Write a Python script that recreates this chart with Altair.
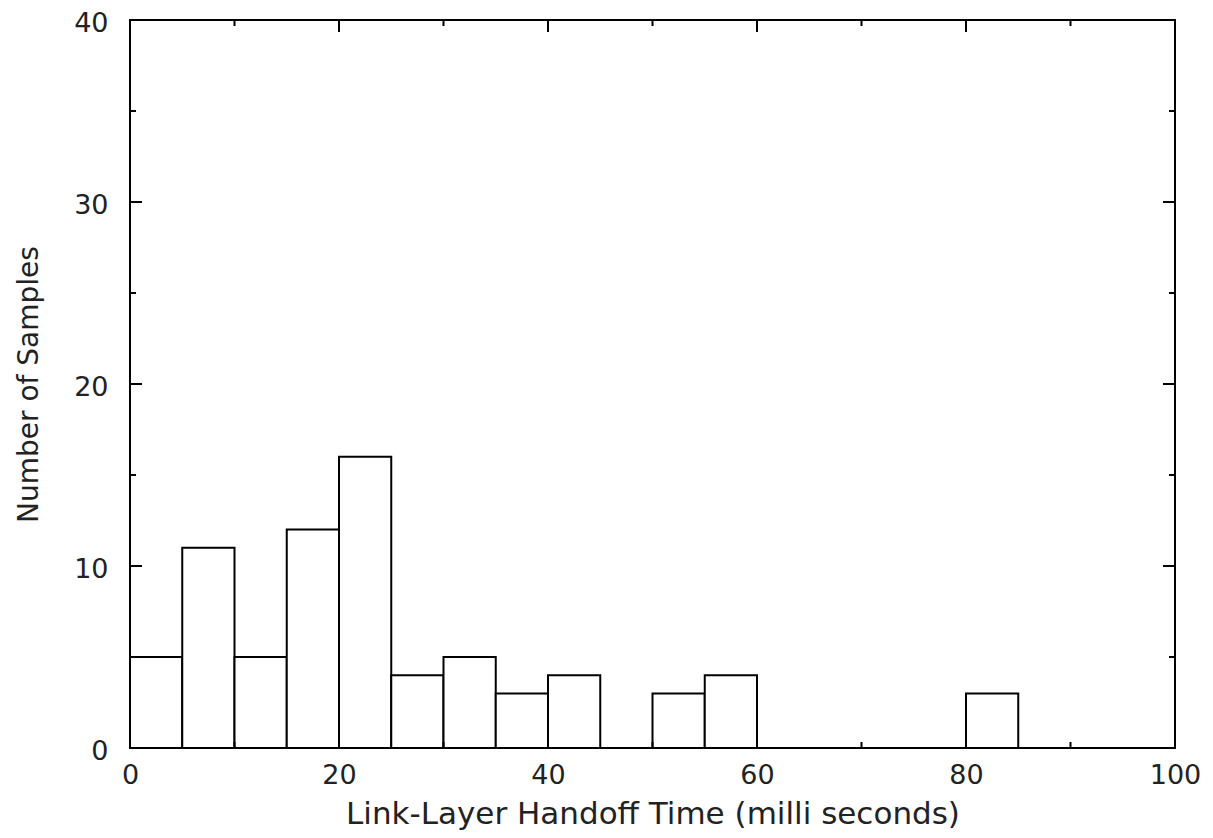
import altair as alt
import pandas as pd

# Histogram bins (milliseconds) and counts
bin_start = [0, 5, 10, 15, 20, 25, 30, 35, 40, 50, 55, 80]
bin_end = [5, 10, 15, 20, 25, 30, 35, 40, 45, 55, 60, 85]
counts = [5, 11, 5, 12, 16, 4, 5, 3, 4, 3, 4, 3]

x_major = [20, 40, 60, 80]
x_minor = [10, 30, 50, 70, 90]
y_major = [10, 20, 30]
y_minor = [5, 15, 25, 35]

bars_df = pd.DataFrame({"start": bin_start, "end": bin_end, "count": counts})

FONT = "DejaVu Sans"
xs = alt.Scale(domain=[0, 100], nice=False, zero=False)
ys = alt.Scale(domain=[0, 40], nice=False)

bars = alt.Chart(bars_df).mark_rect(fill="white", stroke="black", strokeWidth=2).encode(
    x=alt.X("start:Q", scale=xs,
            axis=alt.Axis(values=[0, 20, 40, 60, 80, 100], ticks=False, domain=False, grid=False,
                          labelFontSize=27, labelPadding=14, labelColor="#222", labelFont=FONT,
                          title="Link-Layer Handoff Time (milli seconds)", titleFont=FONT,
                          titleFontSize=31, titleFontWeight="normal", titleColor="#222",
                          titlePadding=11, labelFlush=False)),
    x2="end:Q",
    y=alt.Y("count:Q", scale=ys,
            axis=alt.Axis(values=[0, 10, 20, 30, 40], ticks=False, domain=False, grid=False,
                          labelFontSize=27, labelPadding=22, labelColor="#222", labelFont=FONT,
                          labelOffset=3,
                          title="Number of Samples", titleFont=FONT, titleFontSize=28,
                          titleFontWeight="normal", titleColor="#222", titlePadding=30,
                          labelFlush=False)),
    y2=alt.datum(0),
)

xmaj_df = pd.DataFrame({"v": x_major})
xmin_df = pd.DataFrame({"v": x_minor})
ymaj_df = pd.DataFrame({"v": y_major})
ymin_df = pd.DataFrame({"v": y_minor})

H = 728
W = 1045
MAJ = 12
MIN = 6

def xticks(df, length):
    bottom = alt.Chart(df).mark_rule(color="black", strokeWidth=2).encode(
        x=alt.X("v:Q", scale=xs), y=alt.value(H), y2=alt.value(H - length))
    top = alt.Chart(df).mark_rule(color="black", strokeWidth=2).encode(
        x=alt.X("v:Q", scale=xs), y=alt.value(0), y2=alt.value(length))
    return [bottom, top]

def yticks(df, length):
    left = alt.Chart(df).mark_rule(color="black", strokeWidth=2).encode(
        y=alt.Y("v:Q", scale=ys), x=alt.value(0), x2=alt.value(length))
    right = alt.Chart(df).mark_rule(color="black", strokeWidth=2).encode(
        y=alt.Y("v:Q", scale=ys), x=alt.value(W), x2=alt.value(W - length))
    return [left, right]

layers = [bars] + xticks(xmaj_df, MAJ) + xticks(xmin_df, MIN) + yticks(ymaj_df, MAJ) + yticks(ymin_df, MIN)

chart = alt.layer(*layers).properties(
    width=W, height=H,
    autosize=alt.AutoSizeParams(type="none"),
    padding={"left": 122, "top": 12, "right": 30, "bottom": 89},
).configure(background="white").configure_view(stroke="black", strokeWidth=2)

chart.save("out.html", embed_options={"renderer": "svg", "actions": False})
